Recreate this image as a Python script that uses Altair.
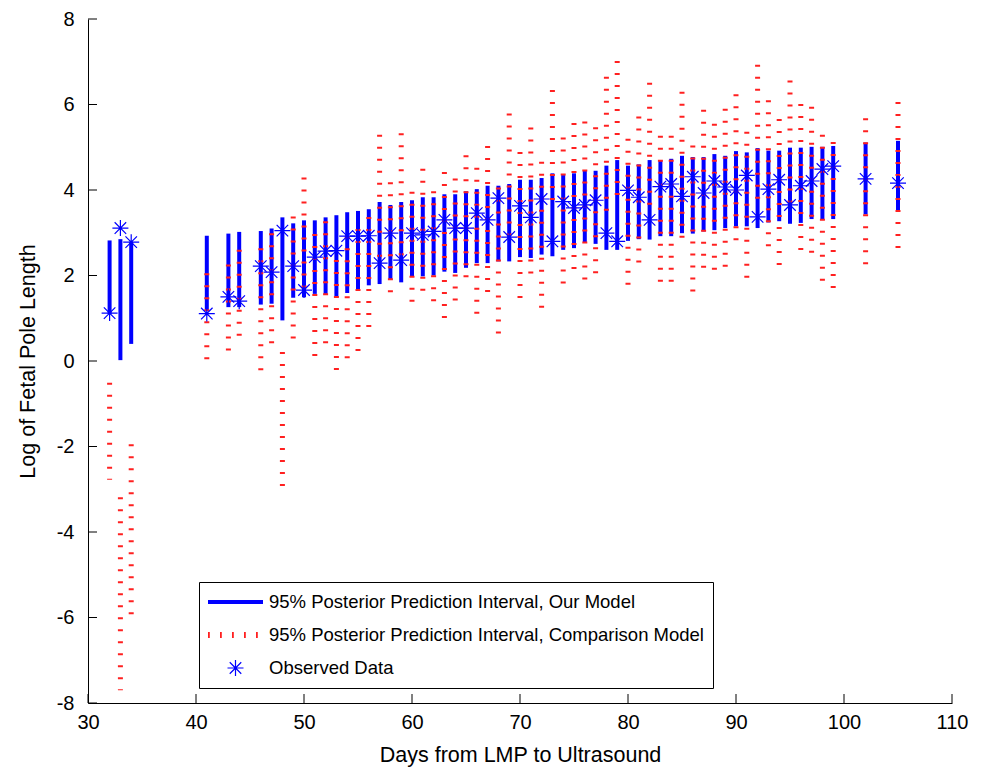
import math
import altair as alt
import pandas as pd

# ---------------- data ----------------
days = [32, 33, 34, 41, 43, 44, 46, 47, 48, 49, 50, 51, 52, 53, 54, 55, 56, 57, 58, 59,
        60, 61, 62, 63, 64, 65, 66, 67, 68, 69, 70, 71, 72, 73, 74, 75, 76, 77, 78, 79,
        80, 81, 82, 83, 84, 85, 86, 87, 88, 89, 90, 91, 92, 93, 94, 95, 96, 97, 98, 99,
        102, 105]

observed = [1.12, 3.11, 2.78, 1.11, 1.50, 1.40, 2.22, 2.08, 3.05, 2.22, 1.66, 2.43, 2.57, 2.58,
            2.92, 2.92, 2.93, 2.29, 2.99, 2.36, 2.99, 2.95, 3.03, 3.30, 3.11, 3.11, 3.46, 3.30,
            3.81, 2.90, 3.63, 3.36, 3.79, 2.80, 3.73, 3.58, 3.65, 3.76, 2.99, 2.80, 3.99, 3.83,
            3.30, 4.08, 4.14, 3.85, 4.31, 3.93, 4.21, 4.07, 4.00, 4.34, 3.37, 4.02, 4.24, 3.65,
            4.10, 4.21, 4.49, 4.56, 4.26, 4.16]

our_lo = [1.10, 0.02, 0.40, 1.17, 1.26, 1.26, 1.32, 1.34, 0.95, 1.48, 1.49, 1.57, 1.57, 1.50,
          1.59, 1.65, 1.77, 1.80, 1.90, 1.84, 1.98, 1.98, 2.00, 2.09, 2.06, 2.18, 2.29, 2.29,
          2.33, 2.33, 2.43, 2.41, 2.49, 2.45, 2.60, 2.64, 2.78, 2.74, 2.60, 2.60, 2.81, 2.85,
          2.84, 2.92, 2.92, 2.99, 2.98, 3.03, 3.06, 3.11, 3.15, 3.15, 3.11, 3.24, 3.27, 3.21,
          3.23, 3.32, 3.30, 3.32, 3.43, 3.50]
our_hi = [2.82, 2.85, 2.78, 2.93, 2.98, 3.02, 3.04, 3.10, 3.36, 3.22, 3.29, 3.29, 3.36, 3.41,
          3.48, 3.51, 3.55, 3.72, 3.65, 3.72, 3.76, 3.83, 3.83, 3.90, 3.90, 3.97, 4.02, 4.10,
          4.10, 4.14, 4.24, 4.24, 4.28, 4.39, 4.35, 4.39, 4.45, 4.45, 4.57, 4.70, 4.57, 4.60,
          4.70, 4.69, 4.73, 4.80, 4.77, 4.77, 4.84, 4.80, 4.91, 4.88, 4.98, 4.92, 4.92, 4.99,
          4.99, 5.01, 5.01, 5.03, 5.11, 5.15]

cmp_lo = [-2.78, -7.70, -6.16, -0.19, 0.02, 0.37, -0.44, 0.19, -3.13, 0.31, 1.49, -0.10, 0.19,
          -0.44, -0.16, 0.00, 0.57, 2.25, 1.38, 2.24, 1.16, 1.42, 1.17, 0.77, 1.19, 1.73, 0.89,
          1.39, 0.42, 2.71, 1.25, 1.82, 1.02, 3.55, 1.59, 1.93, 1.68, 1.83, 3.30, 3.67, 1.56,
          2.08, 3.43, 1.63, 1.64, 2.66, 1.40, 1.96, 1.91, 1.98, 2.60, 1.72, 3.58, 2.46, 2.02,
          3.48, 2.37, 2.31, 1.66, 1.48, 2.04, 2.43]
cmp_hi = [-0.51, -3.19, -1.95, 2.05, 2.26, 2.60, 2.64, 2.99, 0.21, 3.38, 4.29, 2.97, 3.27,
          2.36, 2.92, 3.09, 3.37, 5.29, 4.18, 5.33, 3.96, 4.50, 3.97, 4.42, 4.27, 4.81, 4.52,
          5.03, 4.06, 5.79, 4.89, 5.46, 4.66, 6.34, 5.23, 5.57, 5.60, 5.47, 6.65, 7.02, 5.20,
          5.72, 6.51, 5.27, 5.27, 6.30, 5.04, 5.88, 5.55, 5.90, 6.24, 5.36, 6.93, 6.10, 5.66,
          6.56, 6.01, 5.95, 5.29, 5.12, 5.68, 6.06]

x_ticks = [30, 40, 50, 60, 70, 80, 90, 100, 110]
y_ticks = [-8, -6, -4, -2, 0, 2, 4, 6, 8]

L_OUR = "95% Posterior Prediction Interval, Our Model"
L_CMP = "95% Posterior Prediction Interval, Comparison Model"
L_OBS = "Observed Data"
series_labels = [L_OUR, L_CMP, L_OBS]

# ---------------- styling ----------------
FONT = "Liberation Sans"
BLUE = "#0000ff"
RED = "#ff2020"
W, H = 864, 684
SYM_SIZE = 3025  # symbol unit = sqrt(size)/2 = 27.5 px


def seg(x1, y1, x2, y2, t):
    dx, dy = x2 - x1, y2 - y1
    L = math.hypot(dx, dy)
    nx, ny = -dy / L * t, dx / L * t
    pts = [(x1 + nx, y1 + ny), (x2 + nx, y2 + ny), (x2 - nx, y2 - ny), (x1 - nx, y1 - ny)]
    return "M" + "L".join(f"{px:.4f},{py:.4f}" for px, py in pts) + "Z"


U = math.sqrt(SYM_SIZE) / 2.0
line_path = seg(-1, 0, 1, 0, 1.9 / U)
dot_path = "".join(seg(-1 + k * 12 / U + 0.9 / U, -3 / U, -1 + k * 12 / U + 0.9 / U, 3 / U, 0.9 / U)
                   for k in range(5))
r = 8.0 / U
a = r * 0.72
tt = 0.6 / U
star_path = (seg(-r, 0, r, 0, tt) + seg(0, -r, 0, r, tt)
             + seg(-a, -a, a, a, tt) + seg(-a, a, a, -a, tt))

df = pd.DataFrame({
    "day": days, "obs": observed, "blo": our_lo, "bhi": our_hi,
    "rlo": cmp_lo, "rhi": cmp_hi, "series": [L_OBS] * len(days),
})

xscale = alt.Scale(domain=[30, 110], nice=False, zero=False)
yscale = alt.Scale(domain=[-8, 8], nice=False, zero=False)

XT = "Days from LMP to Ultrasound"
YT = "Log of Fetal Pole Length"

x_axis = alt.Axis(values=x_ticks, tickSize=0, labelPadding=9, title=XT, titlePadding=12,
                  labelFlush=False, labelExpr="'' + datum.value")
y_axis = alt.Axis(values=y_ticks, tickSize=0, labelPadding=14, title=YT, titlePadding=17,
                  labelFlush=False, labelExpr="'' + datum.value")

base = alt.Chart(df)

blue = base.mark_rule(color=BLUE, strokeWidth=4).encode(
    x=alt.X("day:Q", scale=xscale, axis=x_axis, title=XT),
    y=alt.Y("blo:Q", scale=yscale, axis=y_axis, title=YT),
    y2="bhi:Q",
)

red = base.mark_rule(color=RED, strokeWidth=5, strokeDash=[2, 10]).encode(
    x=alt.X("day:Q", scale=xscale, title=XT),
    y=alt.Y("rhi:Q", scale=yscale, title=YT),
    y2="rlo:Q",
)

leg = alt.Legend(
    title=None, orient="none", legendX=111, legendY=563,
    strokeColor="black", fillColor="white", padding=9,
    labelFont=FONT, labelFontSize=18.5, labelColor="black", labelLimit=700,
    labelOffset=6, symbolSize=SYM_SIZE, symbolStrokeWidth=0, symbolOpacity=1,
    clipHeight=22, rowPadding=11, cornerRadius=0,
)

stars = base.mark_point(filled=True, size=SYM_SIZE, opacity=1, strokeWidth=0).encode(
    x=alt.X("day:Q", scale=xscale, title=XT),
    y=alt.Y("obs:Q", scale=yscale, title=YT),
    color=alt.Color("series:N",
                    scale=alt.Scale(domain=series_labels, range=[BLUE, RED, BLUE]),
                    legend=leg),
    shape=alt.Shape("series:N",
                    scale=alt.Scale(domain=series_labels, range=[line_path, dot_path, star_path]),
                    legend=leg),
)

ytick_df = pd.DataFrame({"v": y_ticks})
xtick_df = pd.DataFrame({"v": x_ticks})

ytick = alt.Chart(ytick_df).mark_rule(color="black", strokeWidth=1).encode(
    y=alt.Y("v:Q", scale=yscale, title=YT),
    x=alt.value(0), x2=alt.value(9),
)
xtick = alt.Chart(xtick_df).mark_rule(color="black", strokeWidth=1).encode(
    x=alt.X("v:Q", scale=xscale, title=XT),
    y=alt.value(H), y2=alt.value(H - 9),
)

chart = alt.layer(blue, red, stars, ytick, xtick).properties(
    width=W, height=H,
    padding={"left": 80, "top": 11, "right": 20, "bottom": 67},
    autosize=alt.AutoSizeParams(type="none"),
).configure_view(
    stroke="transparent"
).configure_axis(
    grid=False, domainColor="black", domainWidth=1,
    labelFont=FONT, labelFontSize=20, labelColor="black",
    titleFont=FONT, titleFontSize=21.5, titleFontWeight="normal", titleColor="black",
)

chart.save("out.html", embed_options={"renderer": "svg", "actions": False})
